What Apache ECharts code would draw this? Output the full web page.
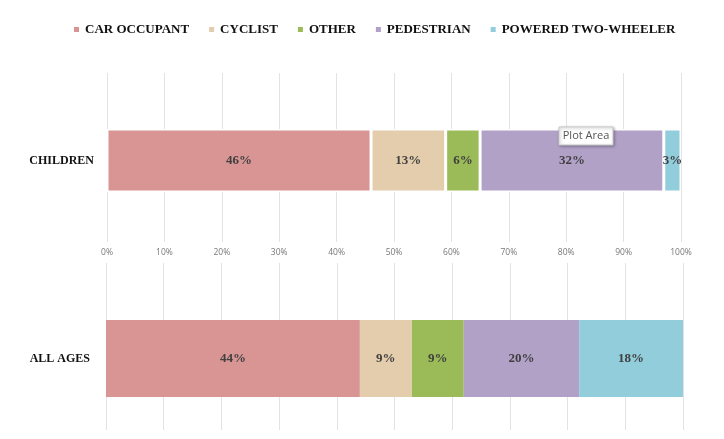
<!DOCTYPE html>
<html>
<head>
<meta charset="utf-8">
<script src="https://cdn.jsdelivr.net/npm/echarts@6/dist/echarts.min.js"></script>
<style>
  html, body { margin: 0; padding: 0; background: #fff; }
  #chart { width: 724px; height: 439px; }
</style>
</head>
<body>
<div id="chart"></div>
<script>
// modes of transport
const modes = ['CAR OCCUPANT', 'CYCLIST', 'OTHER', 'PEDESTRIAN', 'POWERED TWO-WHEELER'];
const colors = ['#D99594', '#E3CDAC', '#9BBB59', '#B2A1C7', '#92CDDC'];

// share of deaths (%)
const childrenShare = [46, 13, 6, 32, 3];
const allAgesShare = [44, 9, 9, 20, 18];

const tickStep = 10;

const chart = echarts.init(document.getElementById('chart'));

const serif = "'Liberation Serif', 'Times New Roman', serif";

const catLabel = (margin) => ({
    fontFamily: serif,
    fontWeight: 'bold',
    fontSize: 12,
    color: '#111',
    margin: margin
});

// hidden value axis used by a bar grid
const hiddenX = (grid) => ({
    type: 'value', gridIndex: grid, min: 0, max: 100, show: false
});

// value axis that only draws the gridlines (and labels for the top chart)
const lineX = (grid, labels) => ({
    type: 'value', gridIndex: grid, min: 0, max: 100, interval: tickStep,
    axisLine: { show: false },
    axisTick: { show: false },
    splitLine: { show: true, lineStyle: { color: '#e3e3e3', width: 1 } },
    axisLabel: {
        show: labels,
        formatter: '{value}%',
        fontFamily: "'Open Sans', sans-serif",
        fontSize: 8.5,
        color: '#777',
        margin: 6
    }
});

const makeSeries = (values, axis, stack, border) => modes.map((name, i) => ({
    name: name,
    type: 'bar',
    stack: stack,
    xAxisIndex: axis,
    yAxisIndex: axis,
    barWidth: '100%',
    data: [values[i]],
    itemStyle: { color: colors[i], borderColor: '#fff', borderWidth: border },
    label: {
        show: true,
        position: 'inside',
        formatter: '{c}%',
        fontFamily: serif,
        fontWeight: 'bold',
        fontSize: 13,
        color: '#3f3f3f'
    }
}));

const option = {
    animation: false,
    backgroundColor: '#fff',
    legend: {
        data: modes,
        top: 18,
        left: 67,
        icon: 'rect',
        itemWidth: 7,
        itemHeight: 7,
        itemGap: 18,
        textStyle: {
            fontFamily: serif,
            fontWeight: 'bold',
            fontSize: 13,
            color: '#111'
        }
    },
    grid: [
        { left: 107, right: 43, top: 129, height: 63 },   // children bar
        { left: 107, right: 43, top: 73, height: 169 },   // children gridlines
        { left: 106, right: 41, top: 320, height: 77 },   // all ages bar
        { left: 106, right: 41, top: 263, height: 167 }   // all ages gridlines
    ],
    xAxis: [
        hiddenX(0),
        lineX(1, true),
        hiddenX(2),
        lineX(3, false)
    ],
    yAxis: [
        { type: 'category', gridIndex: 0, data: ['CHILDREN'],
          axisLine: { show: false }, axisTick: { show: false }, axisLabel: catLabel(13) },
        { type: 'category', gridIndex: 1, data: [''], show: false },
        { type: 'category', gridIndex: 2, data: ['ALL AGES'],
          axisLine: { show: false }, axisTick: { show: false }, axisLabel: catLabel(16) },
        { type: 'category', gridIndex: 3, data: [''], show: false }
    ],
    series: [
        ...makeSeries(childrenShare, 0, 'children', 1.5),
        ...makeSeries(allAgesShare, 2, 'all', 0)
    ],
    graphic: [{
        type: 'rect',
        zlevel: 1,
        shape: { x: 559, y: 127, width: 54, height: 18 },
        style: {
            fill: '#fff', stroke: '#c8c8c8', lineWidth: 1,
            shadowBlur: 3, shadowOffsetX: 1, shadowOffsetY: 1, shadowColor: 'rgba(0,0,0,0.3)'
        }
    }, {
        type: 'text',
        zlevel: 1,
        z: 10,
        x: 586, y: 136,
        style: {
            text: 'Plot Area',
            fontFamily: "'Open Sans', sans-serif",
            fontSize: 11,
            fill: '#555',
            align: 'center',
            verticalAlign: 'middle'
        }
    }]
};

chart.setOption(option);
</script>
</body>
</html>
